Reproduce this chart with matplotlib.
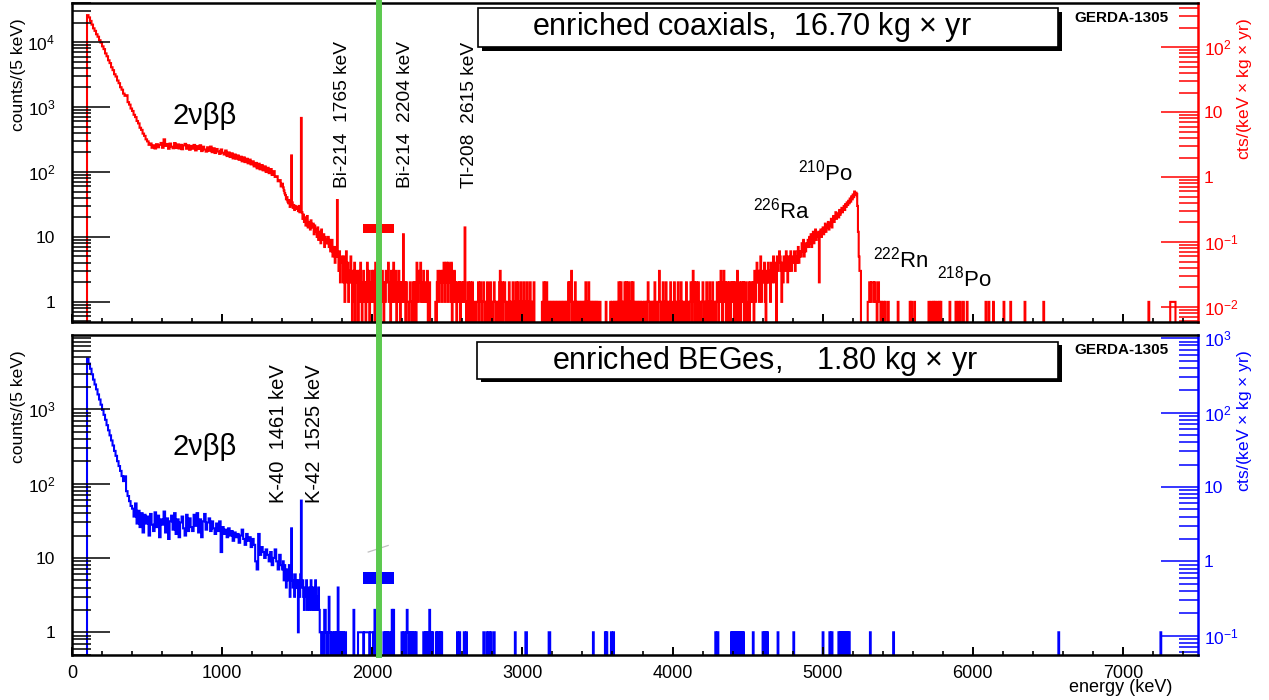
import numpy as np
import matplotlib
matplotlib.use("Agg")
import matplotlib.pyplot as plt
from matplotlib.ticker import (LogLocator, MultipleLocator, FixedLocator,
                               FuncFormatter, NullFormatter)
from matplotlib.patches import Rectangle
from matplotlib.lines import Line2D

plt.rcParams['font.family'] = ['Liberation Sans', 'DejaVu Sans']
plt.rcParams['mathtext.fontset'] = 'custom'
plt.rcParams['mathtext.rm'] = 'Liberation Sans'
plt.rcParams['mathtext.it'] = 'Liberation Sans:italic'
plt.rcParams['mathtext.bf'] = 'Liberation Sans:bold'

# ---- data: counts per 5 keV ----
# 100-1400 keV, read in 10 keV steps
coax_dense = [
    26000, 24000, 21200, 18600, 16300, 14900, 13200, 12100, 10700, 9800,
    8600, 7800, 6700, 6050, 5250, 4750, 4100, 3700, 3200, 2950,
    2560, 2330, 2020, 1850, 1610, 1490, 1520, 1190, 1090, 950,
    870, 760, 700, 610, 560, 480, 445, 390, 360, 318,
    296, 262, 275, 236, 258, 230, 268, 240, 262, 280,
    236, 318, 252, 270, 228, 274, 245, 232, 279, 234,
    266, 230, 262, 224, 257, 271, 228, 258, 220, 252,
    228, 261, 215, 250, 226, 258, 210, 245, 222, 206,
    240, 212, 246, 202, 232, 196, 226, 207, 190, 222,
    198, 186, 214, 176, 200, 170, 194, 162, 186, 160,
    180, 154, 172, 146, 168, 142, 160, 136, 155, 131,
    146, 122, 138, 114, 134, 110, 128, 106, 122, 100,
    116, 96, 111, 90, 103, 84, 86, 72, 75, 60,
]
# 1400-5400 keV, 5 keV bins (one row = 100 keV)
coax_fine = [
    66, 58, 52, 47, 44, 38, 41, 35, 33, 37, 29, 31, 180, 34, 28, 31, 26, 30, 27, 29,
    28, 25, 30, 24, 27, 680, 24, 19, 22, 17, 20, 15, 18, 21, 14, 17, 16, 13, 18, 15,
    14, 16, 11, 15, 12, 13, 10, 14, 9, 12, 11, 8, 13, 10, 9, 11, 7, 10, 8, 9,
    8, 10, 7, 9, 6, 8, 9, 5, 7, 6, 4, 7, 5, 37, 5, 3, 6, 2, 4, 5,
    4, 2, 5, 1, 3, 6, 2, 4, 1, 3, 2, 5, 2, 0, 3, 1, 4, 0, 2, 3,
    2, 0, 3, 1, 4, 2, 0, 1, 3, 2, 1, 0, 2, 4, 1, 3, 0, 2, 1, 3,
    1, 3, 2, 0, 4, 2, 1, 3, 0, 2, 4, 1, 2, 3, 1, 0, 2, 1, 3, 2,
    2, 4, 1, 2, 0, 3, 1, 2, 4, 1, 2, 3, 0, 1, 2, 3, 1, 0, 2, 1,
    2, 11, 1, 2, 0, 2, 1, 1, 0, 1, 2, 1, 0, 1, 2, 0, 2, 1, 0, 4,
    2, 1, 3, 2, 4, 1, 2, 1, 3, 1, 2, 2, 1, 3, 0, 1, 2, 0, 0, 0,
    0, 0, 0, 0, 1, 0, 2, 3, 1, 2, 3, 2, 1, 3, 2, 4, 1, 3, 4, 2,
    1, 4, 2, 3, 1, 4, 0, 2, 1, 3, 2, 1, 0, 2, 2, 1, 2, 0, 1, 2,
    1, 2, 1, 14, 1, 0, 1, 2, 1, 0, 2, 1, 0, 2, 1, 0, 1, 1, 0, 1,
    1, 2, 0, 1, 2, 1, 0, 1, 2, 1, 0, 1, 0, 2, 1, 0, 1, 2, 0, 1,
    0, 1, 2, 1, 0, 1, 0, 1, 0, 2, 3, 0, 1, 2, 0, 1, 2, 1, 0, 1,
    1, 0, 2, 1, 0, 1, 0, 2, 1, 0, 1, 2, 0, 1, 2, 0, 1, 0, 2, 1,
    0, 1, 2, 0, 1, 0, 2, 1, 0, 1, 2, 0, 1, 0, 1, 2, 0, 0, 0, 0,
    0, 0, 0, 0, 0, 0, 1, 0, 2, 1, 0, 2, 2, 0, 1, 0, 1, 0, 1, 0,
    1, 0, 1, 0, 1, 0, 1, 0, 1, 0, 1, 0, 1, 0, 1, 0, 1, 0, 1, 0,
    1, 2, 0, 2, 1, 3, 0, 1, 0, 1, 2, 0, 1, 0, 1, 0, 1, 0, 1, 0,
    1, 0, 1, 0, 2, 1, 0, 1, 2, 0, 1, 0, 1, 0, 1, 0, 1, 0, 1, 0,
    1, 0, 0, 1, 0, 0, 0, 0, 0, 0, 0, 1, 0, 0, 0, 0, 0, 1, 0, 1,
    1, 0, 1, 0, 1, 0, 1, 0, 2, 1, 0, 2, 1, 0, 1, 0, 2, 0, 2, 1,
    0, 2, 1, 0, 1, 2, 0, 2, 0, 1, 0, 1, 0, 1, 0, 1, 0, 1, 0, 1,
    1, 0, 1, 0, 1, 0, 1, 2, 1, 0, 1, 0, 1, 0, 1, 0, 2, 0, 1, 0,
    0, 1, 3, 1, 0, 1, 0, 2, 1, 0, 1, 2, 0, 1, 0, 1, 0, 2, 0, 1,
    1, 0, 2, 1, 0, 1, 0, 2, 0, 1, 0, 2, 1, 0, 1, 0, 1, 0, 2, 1,
    0, 1, 0, 1, 2, 1, 0, 3, 1, 2, 0, 2, 1, 0, 2, 1, 0, 1, 0, 1,
    2, 1, 0, 1, 0, 2, 1, 0, 1, 2, 0, 1, 0, 2, 1, 0, 1, 0, 1, 2,
    1, 0, 2, 1, 3, 2, 0, 2, 3, 1, 2, 0, 1, 2, 0, 1, 2, 0, 1, 2,
    1, 2, 0, 1, 2, 0, 3, 1, 0, 2, 0, 1, 2, 1, 2, 0, 1, 2, 0, 1,
    1, 2, 0, 1, 2, 1, 1, 2, 0, 3, 1, 2, 4, 3, 2, 1, 3, 5, 1, 2,
    3, 2, 4, 1, 0, 3, 2, 4, 2, 3, 1, 4, 2, 3, 5, 2, 4, 3, 0, 5,
    3, 4, 6, 5, 3, 1, 4, 2, 5, 4, 3, 6, 4, 2, 5, 3, 4, 6, 3, 5,
    5, 4, 6, 3, 5, 4, 6, 7, 4, 5, 6, 5, 8, 6, 9, 5, 7, 6, 8, 7,
    9, 7, 10, 8, 11, 7, 9, 12, 8, 10, 13, 9, 11, 10, 12, 2, 11, 13, 10, 12,
    14, 11, 13, 16, 12, 15, 14, 17, 13, 16, 15, 19, 14, 18, 21, 17, 20, 24, 19, 22,
    23, 20, 26, 22, 25, 28, 24, 27, 30, 26, 32, 29, 34, 31, 36, 33, 39, 35, 42, 38,
    45, 41, 50, 44, 48, 46, 30, 12, 5, 3, 3, 0, 0, 0, 0, 0, 0, 0, 0, 0,
    1, 1, 2, 2, 1, 2, 2, 2, 1, 2, 1, 1, 0, 2, 2, 1, 1, 0, 1, 0,
]
# single events above 5400 keV (bin start, keV)
coax_tail = [5405, 5415, 5435, 5500, 5580, 5590, 5610, 5705, 5720, 5735, 5745,
             5760, 5775, 5785, 5845, 5885, 5900, 5915, 5935, 5960, 6085, 6105,
             6135, 6205, 6250, 6345, 6470, 7170, 7315, 7320, 7325, 7330, 7335,
             7340, 7345]

bege_dense = [
    4800, 4100, 3500, 2950, 2500, 2150, 1850, 1580, 1350, 1150,
    980, 840, 720, 610, 520, 445, 380, 325, 275, 236,
    200, 172, 148, 126, 108, 125, 79, 68, 58, 50,
    46, 36, 54, 29, 43, 26, 40, 22, 38, 29,
    36, 20, 39, 28, 23, 41, 26, 37, 19, 33,
    28, 42, 22, 34, 18, 31, 37, 24, 40, 21,
    33, 19, 30, 36, 25, 20, 38, 23, 34, 26,
    23, 38, 27, 40, 22, 33, 19, 31, 39, 24,
    30, 34, 23, 31, 25, 21, 29, 23, 31, 12,
    26, 21, 24, 19, 25, 20, 23, 17, 22, 19,
    21, 16, 20, 24, 18, 15, 21, 17, 19, 14,
    18, 15, 9, 7, 21, 11, 14, 12, 10, 13,
    11, 9, 12, 8, 10, 13, 9, 7, 11, 8,
]
bege_fine = [
    7, 9, 5, 8, 6, 4, 7, 5, 6, 8, 3, 5, 25, 6, 4, 5, 3, 6, 4, 5,
    4, 1, 5, 3, 6, 59, 4, 5, 3, 2, 4, 3, 5, 2, 3, 4, 2, 3, 5, 2,
    3, 4, 2, 3, 5, 2, 3, 2, 4, 2, 1, 1, 0, 1, 1, 0, 2, 2, 1, 0,
    1, 0, 3, 1, 1, 0, 1, 1, 0, 1, 1, 0, 1, 0, 4, 1, 0, 1, 0, 1,
    0, 1, 0, 0, 1, 0, 0, 0, 0, 0, 0, 0, 0, 0, 0, 2, 0, 0, 0, 0,
    0, 1, 1, 1, 1, 1, 1, 1, 0, 1, 1, 1, 1, 1, 1, 1, 0, 1, 1, 1,
    1, 0, 1, 2, 0, 1, 0, 1, 0, 0, 1, 0, 0, 0, 0, 1, 0, 1, 1, 0,
    1, 0, 1, 1, 0, 0, 2, 0, 2, 0, 0, 0, 0, 0, 0, 0, 0, 0, 0, 1,
    1, 0, 1, 1, 0, 1, 2, 1, 0, 1, 1, 0, 1, 1, 0, 1, 1, 0, 1, 0,
    0, 0, 0, 0, 0, 0, 0, 0, 1, 1, 0, 1, 0, 1, 0, 0, 2, 0, 1, 0,
    1, 0, 0, 0, 0, 1, 0, 1, 0, 0, 1, 0, 1, 0, 0, 0, 0, 0, 0, 0,
]
bege_tail = [2565, 2580, 2610, 2625, 2740, 2760, 2775, 2790, 2810, 2950, 3020,
             3025, 3175, 3180, 3470, 3550, 3560, 3590, 3605, 4285, 4300, 4390,
             4400, 4410, 4420, 4430, 4440, 4450, 4460, 4470, 4535, 4600, 4610,
             4620, 4630, 4700, 4805, 5000, 5045, 5060, 5105, 5115, 5125, 5135,
             5145, 5155, 5165, 5175, 5315, 5470, 6570, 7250]

exposure = [16.70, 1.80]          # kg x yr
window = [1940, 2145]             # keV
coax_band = [11.5, 15.8]          # counts/5 keV
bege_band = [4.5, 6.4]
q_bb = 2045

coax_left_ticks = [1, 10, 100, 1e3, 1e4]
coax_right_ticks = [1e-2, 1e-1, 1, 10, 100]
bege_left_ticks = [1, 10, 100, 1e3]
bege_right_ticks = [1e-1, 1, 10, 100, 1e3]


def build(dense, fine, tail):
    t0 = 1400 + 5 * len(fine)
    t = np.zeros((7500 - t0) // 5)
    for e in tail:
        t[(e - t0) // 5] += 1
    edges = np.concatenate([np.arange(100, 1400, 10), np.arange(1400, 7505, 5)])
    vals = np.concatenate([dense, fine, t]).astype(float)
    return edges, vals


W, H = 1269, 700
fig = plt.figure(figsize=(W / 100, H / 100), dpi=100)


def fx(px):
    return px / W


def fy(py):
    return 1 - py / H


def root_log(v, pos):
    e = int(round(np.log10(v)))
    if e == 0:
        return '1'
    if e == 1:
        return '10'
    return r'$\mathregular{10^{%d}}$' % e


def setup(ax, ylim, scale, color, labels, lticks, rticks):
    ax.set_xlim(0, 7500)
    ax.set_yscale('log')
    ax.set_ylim(*ylim)
    for s in ax.spines.values():
        s.set_linewidth(1.8)
    ax.spines['right'].set_visible(False)
    ax.xaxis.set_major_locator(MultipleLocator(1000))
    ax.xaxis.set_minor_locator(MultipleLocator(200))
    ax.yaxis.set_major_locator(FixedLocator(lticks))
    ax.yaxis.set_minor_locator(LogLocator(base=10, subs=np.arange(2, 10), numticks=50))
    ax.yaxis.set_major_formatter(FuncFormatter(root_log))
    ax.yaxis.set_minor_formatter(NullFormatter())
    ax.tick_params(axis='y', which='major', direction='in', length=27, width=1.1,
                   labelsize=12.5, pad=12)
    ax.tick_params(axis='y', which='minor', direction='in', length=13.5, width=1.1)
    ax.tick_params(axis='x', which='major', direction='in', length=5.5, width=1.4,
                   labelsize=13, pad=7, labelbottom=labels)
    ax.tick_params(axis='x', which='minor', direction='in', length=3, width=1.2)

    sec = ax.secondary_yaxis('right', functions=(lambda y: y / scale, lambda y: y * scale))
    sec.yaxis.set_major_locator(FixedLocator(rticks))
    sec.yaxis.set_minor_locator(LogLocator(base=10, subs=np.arange(2, 10), numticks=50))
    sec.yaxis.set_major_formatter(FuncFormatter(root_log))
    sec.yaxis.set_minor_formatter(NullFormatter())
    sec.spines['right'].set_color(color)
    sec.spines['right'].set_linewidth(1.8)
    sec.tick_params(axis='y', which='major', direction='in', length=27, width=1.1,
                    colors=color, labelsize=12.5, pad=4)
    sec.tick_params(axis='y', which='minor', direction='in', length=13.5, width=1.1,
                    colors=color)
    return sec


ax1 = fig.add_axes([fx(72), fy(322), fx(1198 - 72), (322 - 3) / H])
ax2 = fig.add_axes([fx(72), fy(655), fx(1198 - 72), (655 - 335) / H])

panels = [
    (ax1, coax_dense, coax_fine, coax_tail, 'red', (0.49, 4.0e4), 5 * exposure[0],
     coax_band, False, coax_left_ticks, coax_right_ticks),
    (ax2, bege_dense, bege_fine, bege_tail, 'blue', (0.495, 9950), 5 * exposure[1],
     bege_band, True, bege_left_ticks, bege_right_ticks),
]
for ax, dense, fine, tail, col, ylim, scale, band, lab, lt, rt in panels:
    setup(ax, ylim, scale, col, lab, lt, rt)
    edges, vals = build(dense, fine, tail)
    ax.stairs(np.where(vals > 0, vals, 1e-3), edges, baseline=1e-3,
              color=col, lw=1.5)
    ax.fill_between(window, band[0], band[1], color=col, lw=0)

ax2.plot([1973, 2106], [12.0, 14.7], color='#c0c0c0', lw=0.9)

# Q_bb line across both panels
gx = fig.transFigure.inverted().transform(ax1.transData.transform((q_bb, 1)))[0]
fig.add_artist(Line2D([gx, gx], [fy(655), 1.0], transform=fig.transFigure,
                      color='#5cc94f', lw=4.3, zorder=2))

# boxes with shadow
def pave(x0, y0, x1, y1, text, tx):
    sh = 3.5
    fig.add_artist(Rectangle((fx(x0 + sh), fy(y1 + sh)), fx(x1 - x0), (y1 - y0) / H,
                             transform=fig.transFigure, facecolor='black',
                             edgecolor='none', zorder=3))
    fig.add_artist(Rectangle((fx(x0), fy(y1)), fx(x1 - x0), (y1 - y0) / H,
                             transform=fig.transFigure, facecolor='white',
                             edgecolor='black', lw=1.2, zorder=3))
    fig.text(fx(tx), fy((y0 + y1) / 2), text, ha='center', va='center',
             fontsize=22, zorder=4)


pave(478, 8, 1058, 47, 'enriched coaxials,  %.2f kg $\\times$ yr' % exposure[0], 752)
pave(477, 342, 1058, 379, 'enriched BEGes,    %.2f kg $\\times$ yr' % exposure[1], 765)

for top in (18.5, 350.5):
    fig.text(fx(1121.5), fy(top), 'GERDA-1305', ha='center', va='center',
             fontsize=11, fontweight='bold')

# axis titles
fig.text(fx(18.5), fy(18), 'counts/(5 keV)', rotation=90, ha='center', va='top', fontsize=12.5)
fig.text(fx(18.5), fy(350), 'counts/(5 keV)', rotation=90, ha='center', va='top', fontsize=12.5)
fig.text(fx(1245), fy(18), 'cts/(keV $\\times$ kg $\\times$ yr)', rotation=90,
         ha='center', va='top', fontsize=12.5, color='red')
fig.text(fx(1245), fy(350), 'cts/(keV $\\times$ kg $\\times$ yr)', rotation=90,
         ha='center', va='top', fontsize=12.5, color='blue')
fig.text(fx(1172), fy(688), 'energy (keV)', ha='right', va='center', fontsize=13)

# annotations
fig.text(fx(205), fy(116), '2νββ', ha='center', va='center', fontsize=21)
fig.text(fx(205), fy(447), '2νββ', ha='center', va='center', fontsize=21)

for xp, s in [(342.5, 'Bi-214  1765 keV'), (405.5, 'Bi-214  2204 keV'),
              (469.5, 'Tl-208  2615 keV')]:
    fig.text(fx(xp), fy(188), s, rotation=90, ha='center', va='bottom', fontsize=13.8)
for xp, s in [(278.5, 'K-40  1461 keV'), (315, 'K-42  1525 keV')]:
    fig.text(fx(xp), fy(503), s, rotation=90, ha='center', va='bottom', fontsize=14.5)

for xp, yp, s in [(798, 181, r'$^{210}$Po'), (753, 219, r'$^{226}$Ra'),
                  (873, 268, r'$^{222}$Rn'), (937, 286, r'$^{218}$Po')]:
    fig.text(fx(xp), fy(yp), s, ha='left', va='baseline', fontsize=16)

fig.savefig('out.png', dpi=100)
